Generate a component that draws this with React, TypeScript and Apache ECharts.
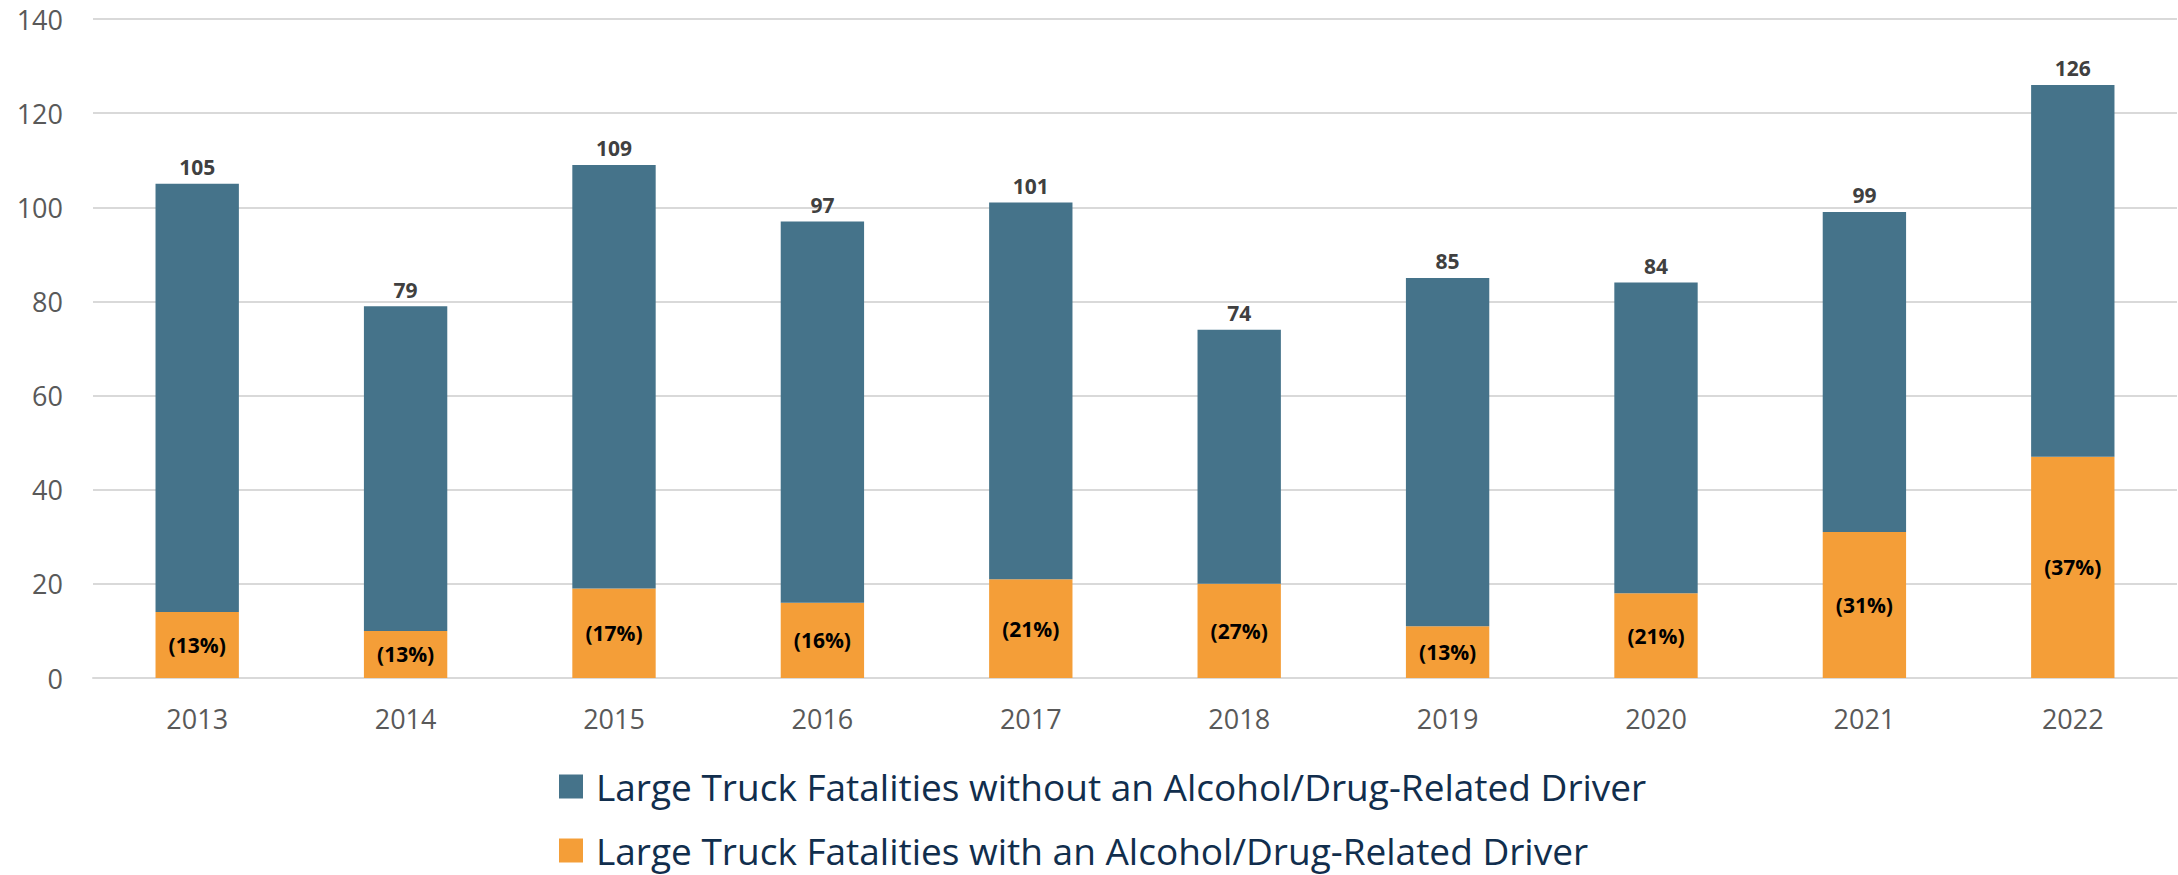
import React, { useEffect, useRef } from "react";
import * as echarts from "echarts";

const years = ["2013", "2014", "2015", "2016", "2017", "2018", "2019", "2020", "2021", "2022"];
const withAlcohol = [14, 10, 19, 16, 21, 20, 11, 18, 31, 47];
const withoutAlcohol = [91, 69, 90, 81, 80, 54, 74, 66, 68, 79];
const totals = [105, 79, 109, 97, 101, 74, 85, 84, 99, 126];
const pctLabels = ["(13%)", "(13%)", "(17%)", "(16%)", "(21%)", "(27%)", "(13%)", "(21%)", "(31%)", "(37%)"];
const yTicks = { min: 0, max: 140, interval: 20 };

const nameWithout = "Large Truck Fatalities without an Alcohol/Drug-Related Driver";
const nameWith = "Large Truck Fatalities with an Alcohol/Drug-Related Driver";

const BLUE = "#45738A";
const ORANGE = "#F49E38";
const FONT = "'Open Sans', sans-serif";

export default function App() {
  const ref = useRef<HTMLDivElement>(null);
  useEffect(() => {
    if (!ref.current) return;
    const chart = echarts.init(ref.current, undefined, { renderer: "svg" });
    const legendText = {
      fontFamily: FONT,
      fontSize: 37,
      color: "#112E4D",
      lineHeight: 37,
      padding: [0, 0, 0, 8],
    };
    chart.setOption({
      animation: false,
      textStyle: { fontFamily: FONT },
      grid: { left: 93, right: 1, top: 19, bottom: 197 },
      legend: [
        {
          data: [nameWithout],
          left: 559,
          top: 768,
          padding: 0,
          icon: "rect",
          itemWidth: 24,
          itemHeight: 24,
          textStyle: legendText,
          selectedMode: false,
        },
        {
          data: [nameWith],
          left: 559,
          top: 832,
          padding: 0,
          icon: "rect",
          itemWidth: 24,
          itemHeight: 24,
          textStyle: legendText,
          selectedMode: false,
        },
      ],
      xAxis: {
        type: "category",
        data: years,
        axisLine: { show: true, lineStyle: { color: "#D9D9D9", width: 2 } },
        axisTick: { show: false },
        axisLabel: { color: "#595959", fontSize: 27, fontFamily: FONT, margin: 27 },
      },
      yAxis: {
        type: "value",
        min: yTicks.min,
        max: yTicks.max,
        interval: yTicks.interval,
        axisLine: { show: false },
        axisTick: { show: false },
        splitLine: { lineStyle: { color: "#D9D9D9", width: 2 } },
        axisLabel: { color: "#595959", fontSize: 27, fontFamily: FONT, margin: 30 },
      },
      series: [
        {
          name: nameWith,
          type: "bar",
          stack: "total",
          data: withAlcohol,
          barWidth: "40%",
          itemStyle: { color: ORANGE },
          label: {
            show: true,
            position: "inside",
            formatter: (p: any) => pctLabels[p.dataIndex],
            color: "#000000",
            fontWeight: "bold",
            fontSize: 21,
            fontFamily: FONT,
          },
        },
        {
          name: nameWithout,
          type: "bar",
          stack: "total",
          data: withoutAlcohol,
          barWidth: "40%",
          itemStyle: { color: BLUE },
          label: {
            show: true,
            position: "top",
            distance: 6,
            formatter: (p: any) => String(totals[p.dataIndex]),
            color: "#404040",
            fontWeight: "bold",
            fontSize: 21,
            fontFamily: FONT,
          },
        },
      ],
    });
    return () => chart.dispose();
  }, []);
  return (
    <div
      ref={ref}
      style={{ position: "fixed", left: 0, top: 0, width: 2178, height: 875, background: "#ffffff" }}
    />
  );
}
